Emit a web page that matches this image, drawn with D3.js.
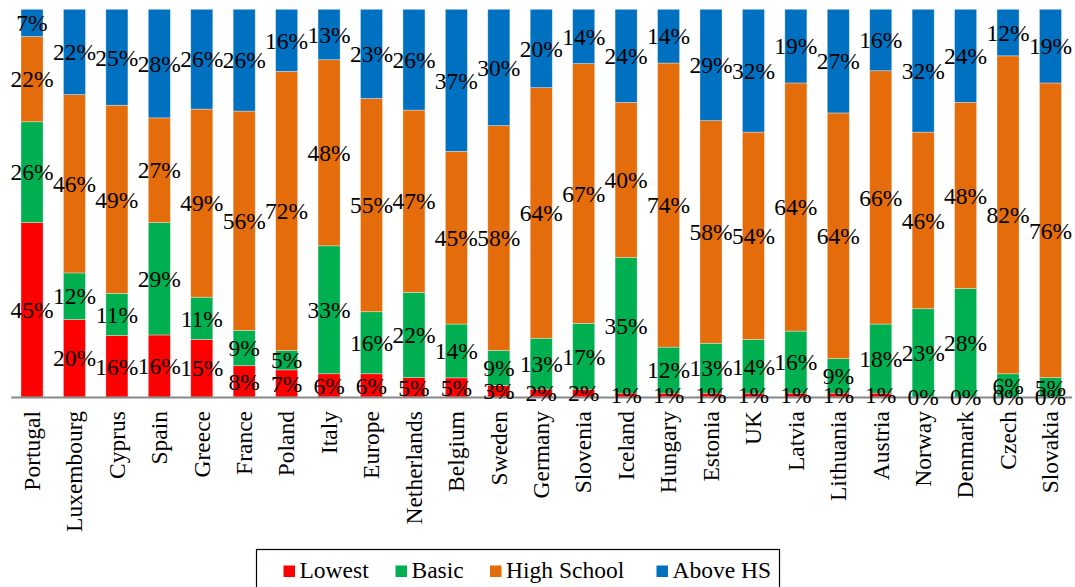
<!DOCTYPE html>
<html>
<head>
<meta charset="utf-8">
<script src="https://cdn.jsdelivr.net/npm/d3@7"></script>
<style>
  body { margin: 0; background: #fff; }
</style>
</head>
<body>
<script>
// data (share of each education level, %)
var countries = ["Portugal", "Luxembourg", "Cyprus", "Spain", "Greece", "France",
  "Poland", "Italy", "Europe", "Netherlands", "Belgium", "Sweden", "Germany",
  "Slovenia", "Iceland", "Hungary", "Estonia", "UK", "Latvia", "Lithuania",
  "Austria", "Norway", "Denmark", "Czech", "Slovakia"];
var seriesNames = ["Lowest", "Basic", "High School", "Above HS"];
var lowest  = [45, 20, 16, 16, 15, 8, 7, 6, 6, 5, 5, 3, 2, 2, 1, 1, 1, 1, 1, 1, 1, 0, 0, 0, 0];
var basic   = [26, 12, 11, 29, 11, 9, 5, 33, 16, 22, 14, 9, 13, 17, 35, 12, 13, 14, 16, 9, 18, 23, 28, 6, 5];
var highSch = [22, 46, 49, 27, 49, 56, 72, 48, 55, 47, 45, 58, 64, 67, 40, 74, 58, 54, 64, 64, 66, 46, 48, 82, 76];
var aboveHS = [7, 22, 25, 28, 26, 26, 16, 13, 23, 26, 37, 30, 20, 14, 24, 14, 29, 32, 19, 27, 16, 32, 24, 12, 19];
var colors = ["#FF0000", "#00B050", "#E46C0A", "#0070C0"];

window.onload = function() {
  var width = 1075, height = 587;
  var plot = { left: 10.8, right: 1071.7, top: 9.3, bottom: 397 };
  var serif = "Liberation Serif";
  var fontSize = 23.5;

  var svg = d3.select("body").append("svg")
              .attr("width", width)
              .attr("height", height)
              .attr("font-family", serif);

  // build rows for the stack
  var rows = countries.map(function(c, i) {
    return { country: c, "Lowest": lowest[i], "Basic": basic[i],
             "High School": highSch[i], "Above HS": aboveHS[i] };
  });

  var stack = d3.stack().keys(seriesNames).offset(d3.stackOffsetExpand);
  var layers = stack(rows);

  var x = d3.scaleBand()
            .domain(countries)
            .range([plot.left, plot.right])
            .paddingInner(0.48)
            .paddingOuter(0.24);
  var y = d3.scaleLinear()
            .domain([0, 1])
            .range([plot.bottom, plot.top]);
  var color = d3.scaleOrdinal().domain(seriesNames).range(colors);

  // bars
  var groups = svg.selectAll("g.layer")
                  .data(layers)
                  .enter()
                  .append("g")
                  .attr("class", "layer")
                  .attr("fill", function(d) { return color(d.key); });

  groups.selectAll("rect")
        .data(function(d) { return d; })
        .enter()
        .append("rect")
        .attr("x", function(d) { return x(d.data.country); })
        .attr("y", function(d) { return y(d[1]); })
        .attr("width", x.bandwidth())
        .attr("height", function(d) { return y(d[0]) - y(d[1]); })
        .attr("stroke", "#ffffff")
        .attr("stroke-opacity", 0.45)
        .attr("stroke-width", 0.75);

  // x axis line + country labels
  var xAxis = d3.axisBottom(x).tickSize(0).tickPadding(0);
  var axisG = svg.append("g")
                 .attr("transform", "translate(0," + plot.bottom + ")")
                 .call(xAxis)
                 .attr("font-family", serif)
                 .attr("font-size", fontSize);
  axisG.select(".domain")
       .attr("stroke", "#878787")
       .attr("stroke-width", 2);
  axisG.selectAll(".tick text")
       .attr("fill", "#000")
       .style("text-anchor", "end")
       .attr("transform", "rotate(-90)")
       .attr("x", -14)
       .attr("y", 0)
       .attr("dy", "0.33em");

  // value labels, centred in each segment
  var labelGroups = svg.selectAll("g.labels")
                       .data(layers)
                       .enter()
                       .append("g")
                       .attr("class", "labels");

  labelGroups.selectAll("text")
             .data(function(d) { return d.map(function(p) { p.key = d.key; return p; }); })
             .enter()
             .append("text")
             .attr("x", function(d) { return x(d.data.country) + x.bandwidth() / 2; })
             .attr("y", function(d) { return (y(d[0]) + y(d[1])) / 2; })
             .attr("dy", "0.35em")
             .attr("text-anchor", "middle")
             .attr("font-size", fontSize)
             .attr("fill", "#000")
             .text(function(d) { return d.data[d.key] + "%"; });

  // legend
  var legend = svg.append("g").attr("transform", "translate(256.5,549.5)");
  legend.append("rect")
        .attr("width", 523)
        .attr("height", 48)
        .attr("fill", "#fff")
        .attr("stroke", "#000")
        .attr("stroke-width", 1.2);

  var legendX = [27, 139, 233.5, 400];
  var items = legend.selectAll("g.item")
                    .data(seriesNames)
                    .enter()
                    .append("g")
                    .attr("class", "item")
                    .attr("transform", function(d, i) { return "translate(" + legendX[i] + ",0)"; });
  items.append("rect")
       .attr("y", 16)
       .attr("width", 11.5)
       .attr("height", 11.5)
       .attr("fill", function(d) { return color(d); });
  items.append("text")
       .attr("x", 16)
       .attr("y", 28.8)
       .attr("font-size", fontSize)
       .attr("fill", "#000")
       .text(function(d) { return d; });
};
</script>
</body>
</html>
